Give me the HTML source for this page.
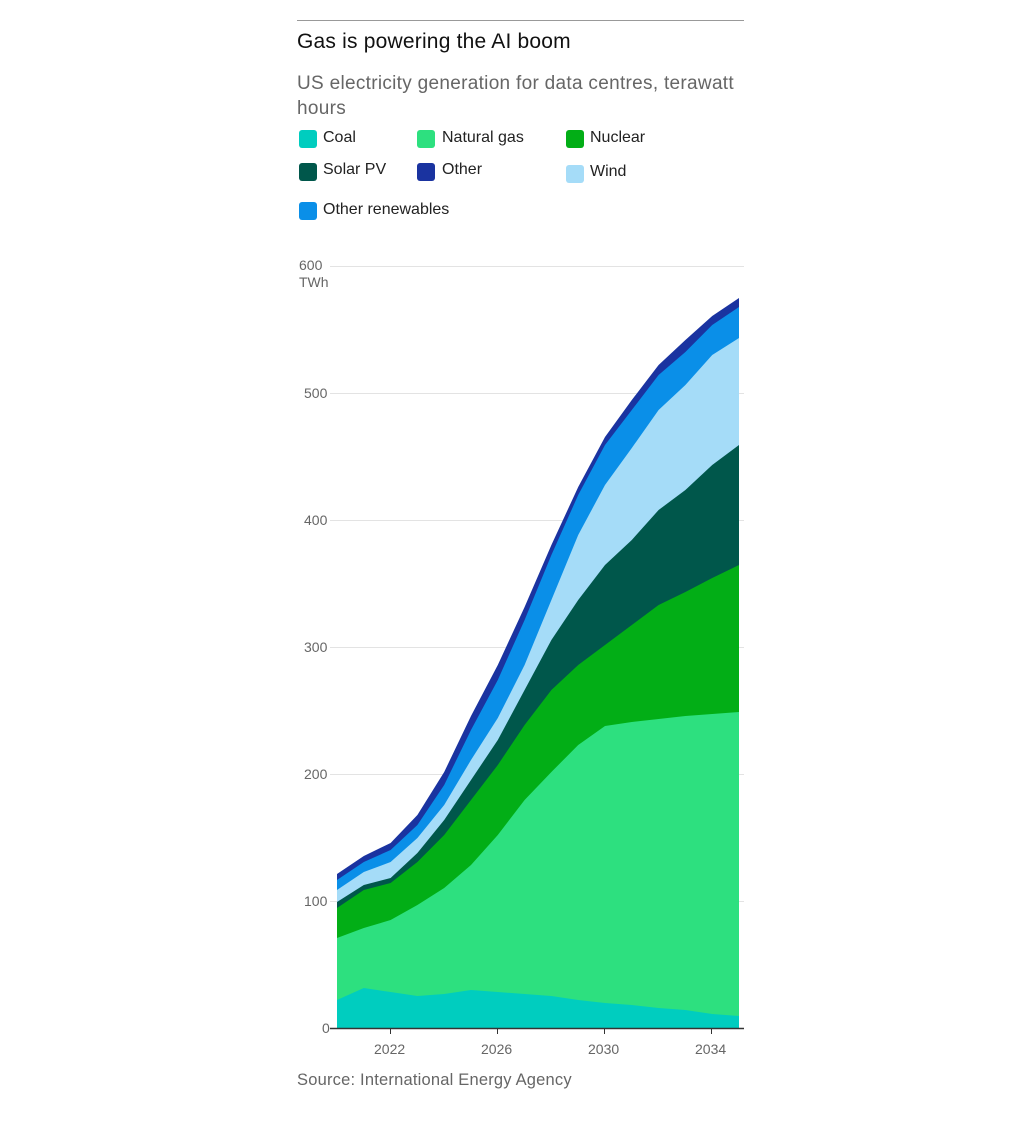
<!DOCTYPE html>
<html><head><meta charset="utf-8"><style>
body{margin:0;background:#fff;width:1013px;height:1122px;overflow:hidden;font-family:"Liberation Sans",sans-serif}
.t{position:absolute;white-space:nowrap}
.sw{position:absolute;width:18px;height:18px;border-radius:3px}
</style></head><body>
<div style="position:absolute;left:297px;top:20px;width:447px;height:1px;background:#999"></div>
<div class="t" style="left:297px;top:30px;font-size:21px;color:#111;letter-spacing:0.2px">Gas is powering the AI boom</div>
<div class="t" style="left:297px;top:71px;font-size:19px;color:#666;line-height:25px;letter-spacing:0.3px">US electricity generation for data centres, terawatt<br>hours</div>
<div class="sw" style="left:299px;top:130px;background:#00cdbf"></div><div class="t" style="left:323px;top:129px;font-size:16px;color:#222">Coal</div>
<div class="sw" style="left:417px;top:130px;background:#2de07f"></div><div class="t" style="left:442px;top:129px;font-size:16px;color:#222">Natural gas</div>
<div class="sw" style="left:566px;top:130px;background:#02ae16"></div><div class="t" style="left:590px;top:129px;font-size:16px;color:#222">Nuclear</div>
<div class="sw" style="left:299px;top:163px;background:#00574b"></div><div class="t" style="left:323px;top:161px;font-size:16px;color:#222">Solar PV</div>
<div class="sw" style="left:417px;top:163px;background:#1a33a0"></div><div class="t" style="left:442px;top:161px;font-size:16px;color:#222">Other</div>
<div class="sw" style="left:566px;top:165px;background:#a5dcf8"></div><div class="t" style="left:590px;top:163px;font-size:16px;color:#222">Wind</div>
<div class="sw" style="left:299px;top:202px;background:#0a8fe8"></div><div class="t" style="left:323px;top:201px;font-size:16px;color:#222">Other renewables</div>
<svg width="1013" height="1122" style="position:absolute;left:0;top:0">
<g stroke="#e3e3e3" stroke-width="1">
<line x1="330" y1="266.5" x2="744" y2="266.5"/><line x1="330" y1="393.5" x2="744" y2="393.5"/><line x1="330" y1="520.5" x2="744" y2="520.5"/><line x1="330" y1="647.5" x2="744" y2="647.5"/><line x1="330" y1="774.5" x2="744" y2="774.5"/><line x1="330" y1="901.5" x2="744" y2="901.5"/></g>
<g font-size="14" fill="#666" font-family="Liberation Sans,sans-serif">
<text x="299" y="270">600</text><text x="299" y="287">TWh</text><text x="304" y="398">500</text><text x="304" y="525">400</text><text x="304" y="652">300</text><text x="304" y="779">200</text><text x="304" y="906">100</text><text x="322" y="1033">0</text>
<text x="374" y="1054">2022</text><text x="481" y="1054">2026</text><text x="588" y="1054">2030</text><text x="695" y="1054">2034</text></g>
<g id="a"></g>
<line x1="330" y1="1028.5" x2="744" y2="1028.5" stroke="#333" stroke-width="1.5"/>
<g stroke="#333"><line x1="390.5" y1="1028" x2="390.5" y2="1034"/><line x1="497.5" y1="1028" x2="497.5" y2="1034"/><line x1="604.5" y1="1028" x2="604.5" y2="1034"/><line x1="711.5" y1="1028" x2="711.5" y2="1034"/></g>
</svg>
<div class="t" style="left:297px;top:1071px;font-size:16.5px;color:#666;letter-spacing:0.2px">Source: International Energy Agency</div>
<script>
const L=[
["#1a33a0",[874,856,843,815,772,716,665,607,545,487,437,400,365,340,316,298]],
["#0a8fe8",[880,862,850,825,785,730,680,620,555,495,445,410,375,352,325,307]],
["#a5dcf8",[890,872,862,838,805,760,718,665,600,535,485,448,410,385,355,338]],
["#00574b",[902,885,878,853,820,780,740,690,640,600,565,540,510,490,465,445]],
["#02ae16",[908,890,883,862,835,800,765,725,690,665,645,625,605,592,578,565]],
["#2de07f",[938,928,920,905,888,865,835,800,772,745,726,722,719,716,714,712]],
["#00cdbf",[1000,988,992,996,994,990,992,994,996,1000,1003,1005,1008,1010,1014,1016]]];
let h="";
for(const [c,v] of L){let p="M337,1028";v.forEach((y,i)=>{p+=" L"+(337+i*26.8).toFixed(1)+","+y});p+=" L739,1028Z";h+=`<path d="${p}" fill="${c}"/>`;}
document.getElementById("a").innerHTML=h;
</script>
</body></html>
